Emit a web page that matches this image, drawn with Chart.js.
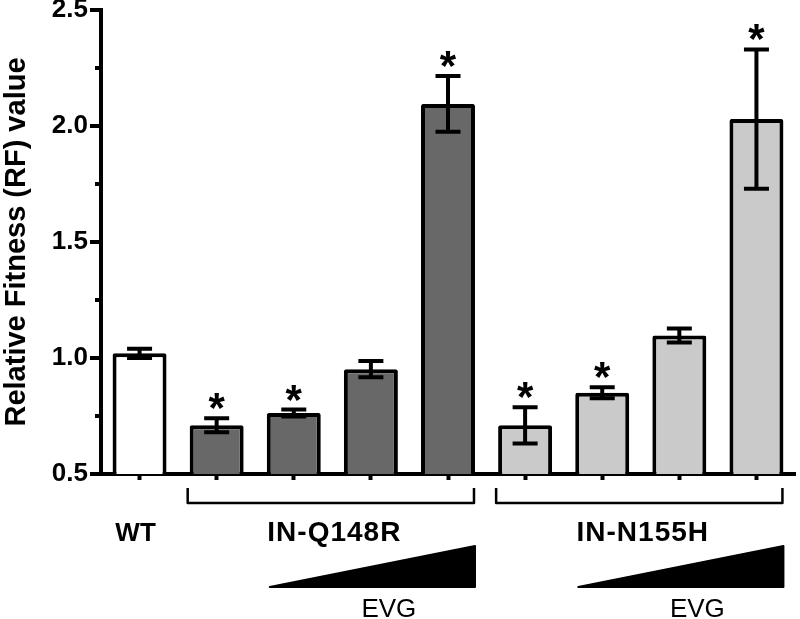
<!DOCTYPE html>
<html>
<head>
<meta charset="utf-8">
<script src="https://cdn.jsdelivr.net/npm/chart.js@4.4.1/dist/chart.umd.min.js"></script>
<style>
  body { margin: 0; background: #fff; }
  #wrap { width: 800px; height: 619px; position: relative; }
</style>
</head>
<body>
<div id="wrap"><canvas id="rfChart"></canvas></div>
<script>
// bars: WT, then 4 increasing EVG steps for each mutant
var categories = ['WT', 'Q148R-1', 'Q148R-2', 'Q148R-3', 'Q148R-4', 'N155H-1', 'N155H-2', 'N155H-3', 'N155H-4'];
var rfValues = [1.02, 0.71, 0.763, 0.952, 2.095, 0.71, 0.85, 1.097, 2.03];
var rfErrors = [0.02, 0.03, 0.015, 0.035, 0.12, 0.078, 0.024, 0.03, 0.30];
var significant = [false, true, true, false, true, true, true, false, true];
var groupLabels = ['WT', 'IN-Q148R', 'IN-N155H'];
var groupStart = [0, 1, 5];
var groupEnd = [0, 4, 8];
var drugLabel = 'EVG';
var yTitle = 'Relative Fitness (RF) value';

var barColors = ['#ffffff', '#686868', '#686868', '#686868', '#686868', '#cacaca', '#cacaca', '#cacaca', '#cacaca'];
var FONT = '"Liberation Sans", Arial, sans-serif';

// error bars, stars, y tick marks and the group annotations under the axis
var extras = {
  id: 'extras',
  afterDatasetsDraw: function(chart) {
    var ctx = chart.ctx, x = chart.scales.x, y = chart.scales.y;
    ctx.save();
    ctx.strokeStyle = '#000';
    ctx.fillStyle = '#000';
    rfValues.forEach(function(v, i) {
      var cx = x.getPixelForValue(i);
      var hi = y.getPixelForValue(v + rfErrors[i]);
      var lo = y.getPixelForValue(v - rfErrors[i]);
      ctx.lineWidth = 4;
      ctx.beginPath();
      ctx.moveTo(cx, hi); ctx.lineTo(cx, lo);
      ctx.moveTo(cx - 12.5, hi); ctx.lineTo(cx + 12.5, hi);
      ctx.moveTo(cx - 12.5, lo); ctx.lineTo(cx + 12.5, lo);
      ctx.stroke();
      if (significant[i]) {
        ctx.font = 'bold 42px ' + FONT;
        ctx.textAlign = 'center';
        ctx.textBaseline = 'alphabetic';
        ctx.fillText('*', cx, hi + 4);
      }
    });
    ctx.restore();
  },
  afterDraw: function(chart) {
    var ctx = chart.ctx, x = chart.scales.x, y = chart.scales.y;
    var area = chart.chartArea;
    var bars = chart.getDatasetMeta(0).data;
    ctx.save();
    ctx.strokeStyle = '#000';
    ctx.fillStyle = '#000';

    // y tick marks, short ones for the minor steps
    ctx.lineWidth = 4;
    y.ticks.forEach(function(t) {
      var py = y.getPixelForValue(t.value);
      var major = Math.abs(t.value * 2 - Math.round(t.value * 2)) < 1e-6;
      var len = major ? 11 : 6;
      ctx.beginPath();
      ctx.moveTo(area.left - len, py);
      ctx.lineTo(area.left, py);
      ctx.stroke();
    });

    var b = area.bottom;
    for (var g = 0; g < groupLabels.length; g++) {
      var s = groupStart[g], e = groupEnd[g];
      var left = bars[s].x - bars[s].width / 2;
      var right = bars[e].x + bars[e].width / 2;
      var mid = (x.getPixelForValue(s) + x.getPixelForValue(e)) / 2;

      ctx.textAlign = 'center';
      ctx.textBaseline = 'alphabetic';
      if (s === e) {
        ctx.font = 'bold 26px ' + FONT;
        ctx.fillText(groupLabels[g], mid - 4, b + 67);
        continue;
      }
      ctx.font = 'bold 28px ' + FONT;
      ctx.letterSpacing = '1px';
      ctx.fillText(groupLabels[g], mid + 2, b + 67);
      ctx.letterSpacing = '0px';

      // bracket
      ctx.lineWidth = 2.5;
      ctx.lineJoin = 'round';
      ctx.beginPath();
      ctx.moveTo(left - 2, b + 14);
      ctx.lineTo(left - 2, b + 29);
      ctx.lineTo(right - 1, b + 29);
      ctx.lineTo(right - 1, b + 14);
      ctx.stroke();

      // EVG wedge
      var tl = bars[s + 1].x - bars[s + 1].width / 2 + 3;
      ctx.lineWidth = 2;
      ctx.beginPath();
      ctx.moveTo(tl, b + 113);
      ctx.lineTo(right, b + 113);
      ctx.lineTo(right, b + 72);
      ctx.closePath();
      ctx.fill();
      ctx.stroke();

      ctx.font = '26px ' + FONT;
      ctx.fillText(drugLabel, x.getPixelForValue(s + 2) + 18, b + 143);
    }
    ctx.restore();
  }
};

Chart.defaults.font.family = FONT;
Chart.defaults.color = '#000';

var chart = new Chart('rfChart', {
  type: 'bar',
  data: {
    labels: categories,
    datasets: [{
      data: rfValues,
      backgroundColor: barColors,
      borderColor: '#000',
      borderWidth: 4,
      borderRadius: 2,
      barPercentage: 0.7,
      categoryPercentage: 1
    }]
  },
  options: {
    responsive: true,
    maintainAspectRatio: false,
    animation: false,
    layout: { padding: { top: 10, right: 5, left: 0, bottom: 0 } },
    plugins: { legend: { display: false }, tooltip: { enabled: false } },
    scales: {
      x: {
        offset: true,
        ticks: { display: false },
        grid: { offset: false, drawOnChartArea: false, drawTicks: true, tickLength: 6, tickWidth: 4, tickColor: '#000' },
        border: { display: true, color: '#000', width: 4 },
        afterFit: function(scale) { scale.height = 145; }
      },
      y: {
        min: 0.5,
        max: 2.5,
        ticks: {
          stepSize: 0.25,
          autoSkip: false,
          padding: 2,
          font: { size: 26, weight: 'bold' },
          callback: function(v) {
            return Math.abs(v * 2 - Math.round(v * 2)) < 1e-6 ? v.toFixed(1) : '';
          }
        },
        grid: { drawOnChartArea: false, drawTicks: true, tickLength: 11, tickColor: 'rgba(0,0,0,0)' },
        border: { display: true, color: '#000', width: 4 },
        title: {
          display: true,
          text: yTitle,
          font: { size: 29, weight: 'bold' },
          padding: { top: 0, bottom: 0 }
        },
        afterFit: function(scale) {
          scale.width = 101;
          scale.paddingTop = 0;
          scale.paddingBottom = 0;
        }
      }
    }
  },
  plugins: [extras]
});
</script>
</body>
</html>
